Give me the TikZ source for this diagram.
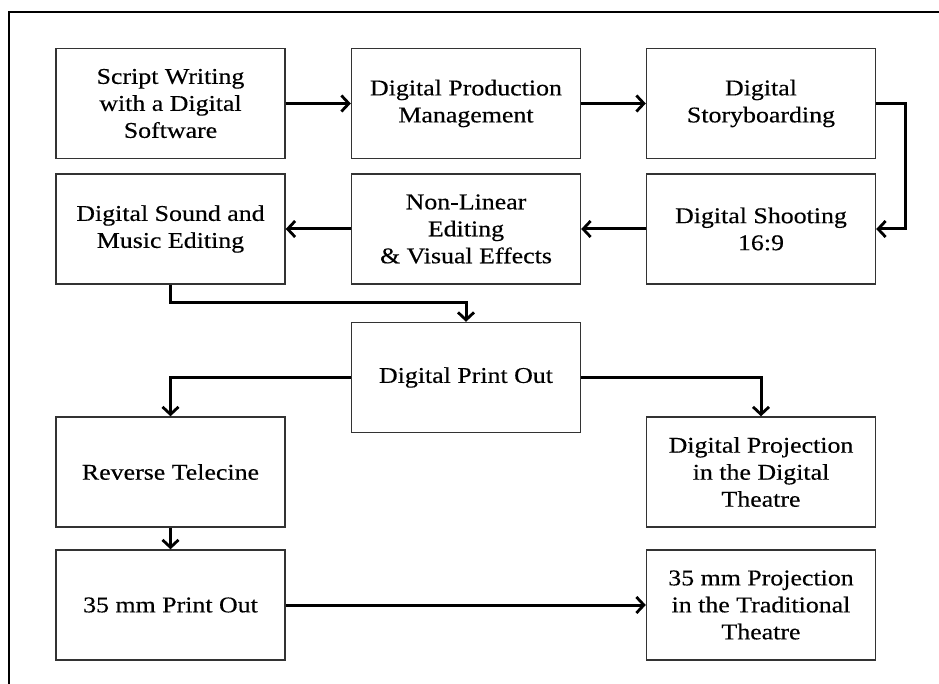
\documentclass[tikz,border=0pt]{standalone}
\usepackage{fontspec}
\setmainfont{Liberation Serif}[FakeStretch=1.15, FakeBold=0.4]
\usetikzlibrary{arrows.meta}
\tikzset{
  stage/.style={draw=black!80, line width=1.4pt, minimum width=229pt, minimum height=110pt,
    inner sep=0pt, align=center, font=\fontsize{22.5}{27}\selectfont},
  flow/.style={line width=3pt, -{Straight Barb[length=7.5pt, width=16pt, line width=2.8pt]}},
  frame/.style={line width=2pt}
}
\begin{document}
\begin{tikzpicture}[x=1pt, y=-1pt]
  \useasboundingbox (0,0) rectangle (939,684);
  % page frame: left and top rules
  \draw[frame] (9,684) -- (9,12) -- (939,12);

  % first row
  \node[stage] (script) at (170.5,103.5) {Script Writing\\with a Digital\\Software};
  \node[stage] (mgmt)   at (466,103.5)   {Digital Production\\Management};
  \node[stage] (story)  at (761,103.5)   {Digital\\Storyboarding};
  % second row
  \node[stage] (sound)  at (170.5,229)   {Digital Sound and\\Music Editing};
  \node[stage] (edit)   at (466,229)     {Non-Linear\\Editing\\\& Visual Effects};
  \node[stage] (shoot)  at (761,229)     {Digital Shooting\\16:9};
  % print and release
  \node[stage] (print)  at (466,377.5)   {Digital Print Out};
  \node[stage] (tele)   at (170.5,472)   {Reverse Telecine};
  \node[stage] (dproj)  at (761,472)     {Digital Projection\\in the Digital\\Theatre};
  \node[stage] (film)   at (170.5,605)   {35 mm Print Out};
  \node[stage] (fproj)  at (761,605)     {35 mm Projection\\in the Traditional\\Theatre};

  % connectors
  \draw[flow] (script) -- (mgmt);
  \draw[flow] (mgmt) -- (story);
  \draw[flow] (story.east) -- ++(29,0) |- (shoot.east);
  \draw[flow] (shoot) -- (edit);
  \draw[flow] (edit) -- (sound);
  \draw[flow] (sound.south) -- ++(0,18) -| (print.north);
  \draw[flow] (print.west) -| (tele.north);
  \draw[flow] (print.east) -| (dproj.north);
  \draw[flow] (tele) -- (film);
  \draw[flow] (film) -- (fproj);
\end{tikzpicture}
\end{document}
